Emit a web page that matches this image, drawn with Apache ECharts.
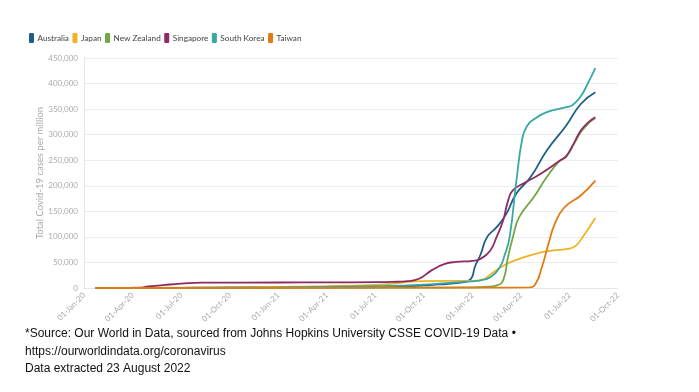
<!DOCTYPE html>
<html>
<head>
<meta charset="utf-8">
<script src="https://cdn.jsdelivr.net/npm/echarts@6/dist/echarts.min.js"></script>
<style>
html,body{margin:0;padding:0;background:#fff;}
#c{width:699px;height:392px;}
</style>
</head>
<body>
<div id="c"></div>
<script>
// x = months since 01-Jan-2020, y = total cases per million
const seriesNames = ['Australia', 'Japan', 'New Zealand', 'Singapore', 'South Korea', 'Taiwan'];
const monthNames = ['Jan','Feb','Mar','Apr','May','Jun','Jul','Aug','Sep','Oct','Nov','Dec'];
const yTicks = [0, 50000, 100000, 150000, 200000, 250000, 300000, 350000, 400000, 450000];

const australia = [[0.7,0],[2,100],[3,250],[6,400],[8,900],[12,1100],[18,1300],[20,3000],[21,5000],[22,7000],[23,9500],[23.8,15000],[24.2,45000],[24.5,65000],[24.9,99000],[25.5,119000],[26.1,145000],[26.7,184000],[27.6,217000],[28.6,269000],[29.8,318000],[30.7,360000],[31.6,383000]];
const japan = [[0.7,0],[6,300],[12,2000],[15,3700],[18,6300],[19,8000],[20,12000],[21,13500],[24,14000],[24.5,15000],[25.3,31000],[26.1,47000],[26.9,57000],[27.9,67000],[28.9,73000],[30,77000],[30.4,83000],[30.8,99000],[31.6,137000]];
const newZealand = [[0.7,0],[12,500],[20,800],[24,1200],[25,2500],[25.5,5000],[25.9,15000],[26.2,60000],[26.5,99000],[26.9,139000],[27.8,178000],[28.6,217000],[29.4,249000],[29.8,257000],[30.3,283000],[30.7,305000],[31.2,323000],[31.6,332000]];
const singapore = [[0.7,0],[2.5,200],[3.4,500],[4,3000],[5,6000],[6,8500],[7.3,10500],[12,10800],[15,11000],[18,11500],[19,12000],[20,13500],[20.7,18000],[21.5,35000],[22.3,47000],[23,51000],[24,53000],[24.5,57000],[25.1,73000],[25.5,100000],[25.9,132000],[26.2,170000],[26.5,191000],[27.3,207000],[28.2,223000],[29.4,249000],[29.8,258000],[30.3,285000],[30.7,308000],[31.2,325000],[31.6,334000]];
const southKorea = [[0.7,0],[6,300],[12,1200],[18,3500],[21,6500],[23,11000],[24,13000],[24.5,15000],[25.1,21000],[25.7,41000],[26.0,65000],[26.3,99000],[26.7,204000],[27.1,295000],[27.4,318000],[27.8,330000],[28.6,344000],[29.8,354000],[30.2,358000],[30.7,375000],[31.1,398000],[31.6,430000]];
const taiwan = [[0.7,0],[12,50],[18,600],[24,700],[27.5,1200],[27.9,8000],[28.3,41000],[28.7,86000],[29.1,126000],[29.7,158000],[30.7,181000],[31.6,210000]];

const seriesData = [australia, japan, newZealand, singapore, southKorea, taiwan];
const colors = ['#1d5f8a', '#f0b323', '#72a843', '#8e2b62', '#38a8a5', '#e27a13'];

const chart = echarts.init(document.getElementById('c'));
chart.setOption({
  animation: false,
  color: colors,
  textStyle: { fontFamily: 'Lato' },
  legend: {
    left: 24, top: 28,
    icon: 'roundRect',
    itemWidth: 5, itemHeight: 10, itemGap: 3.5,
    textStyle: { fontSize: 8.2, color: '#444', padding: [0,0,0,-1.5] },
    data: seriesNames
  },
  grid: { left: 84, right: 81, top: 58, bottom: 104, containLabel: false },
  xAxis: {
    type: 'value', min: 0, max: 33, interval: 3,
    axisLine: { show: true, lineStyle: { color: '#e6e6e6' } },
    axisTick: { show: false },
    splitLine: { show: false },
    axisLabel: {
      rotate: 45, fontSize: 8, color: '#aaa', margin: 6,
      formatter: v => '01-' + monthNames[v % 12] + '-' + (20 + Math.floor(v / 12))
    }
  },
  yAxis: {
    type: 'value', min: 0, max: yTicks[yTicks.length-1], interval: 50000,
    name: 'Total Covid-19 cases per million',
    nameLocation: 'middle', nameGap: 39, nameRotate: 90, nameMoveOverlap: false,
    nameTextStyle: { fontSize: 9.5, color: '#aaa' },
    axisLine: { show: true, lineStyle: { color: '#e6e6e6' } },
    axisTick: { show: false },
    splitLine: { lineStyle: { color: '#ececec' } },
    axisLabel: {
      fontSize: 8, color: '#aaa', margin: 6,
      formatter: v => v.toLocaleString('en-US')
    }
  },
  series: seriesNames.map((n, i) => ({
    name: n, type: 'line', data: seriesData[i],
    showSymbol: false, smooth: 0.5,
    lineStyle: { width: 1.8 }
  })),
  graphic: [
    { type: 'text', left: 25, top: 328, style: { text: '*Source: Our World in Data, sourced from Johns Hopkins University CSSE COVID-19 Data \u2022', font: '12px "Liberation Sans"', fill: '#111' } },
    { type: 'text', left: 25, top: 346, style: { text: 'https://ourworldindata.org/coronavirus', font: '12px "Liberation Sans"', fill: '#111' } },
    { type: 'text', left: 25, top: 363, style: { text: 'Data extracted 23 August 2022', font: '12px "Liberation Sans"', fill: '#111' } }
  ]
});
</script>
</body>
</html>
